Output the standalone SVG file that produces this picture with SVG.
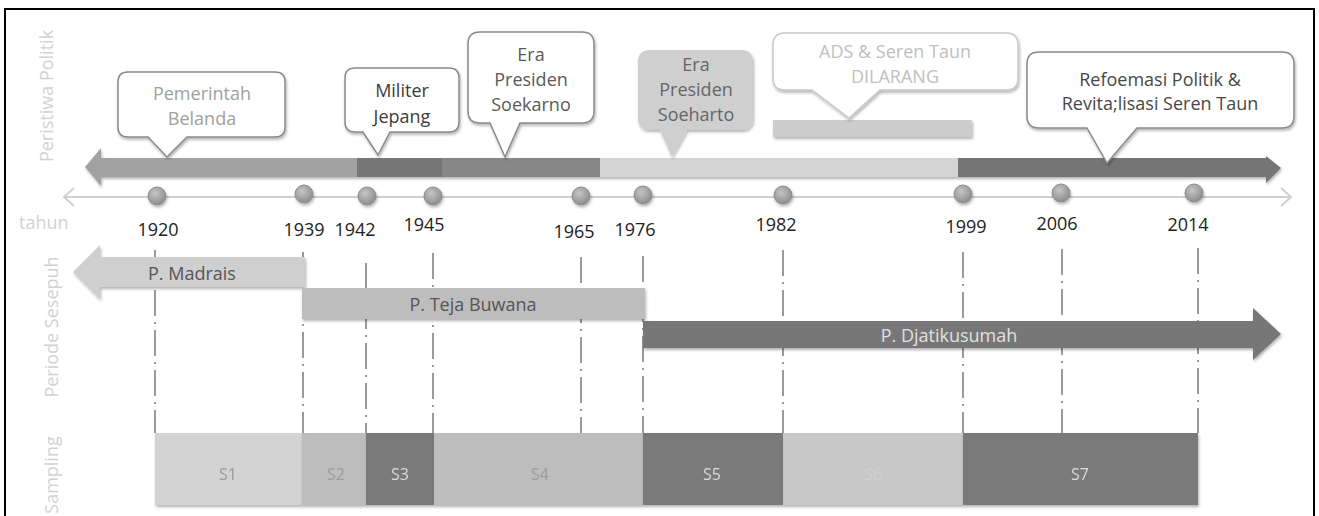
<svg xmlns="http://www.w3.org/2000/svg" width="1319" height="516" viewBox="0 0 1319 516">
<defs>
<filter id="sh" x="-10%" y="-10%" width="130%" height="140%">
<feDropShadow dx="1" dy="2" stdDeviation="1.5" flood-color="#000" flood-opacity="0.3"/>
</filter>
<radialGradient id="dotg" cx="40%" cy="35%" r="70%">
<stop offset="0" stop-color="#c4c4c4"/>
<stop offset="1" stop-color="#8a8a8a"/>
</radialGradient>
</defs>
<style>
text{font-family:"Open Sans","Liberation Sans",sans-serif}
.side{font-size:18px;fill:#d2d2d2}
.yr{font-size:18px;fill:#222;text-anchor:middle}
.co{font-size:18px;text-anchor:middle}
.box{fill:#fff;stroke:#8a8a8a;stroke-width:1.5;filter:url(#sh)}
.dash{stroke:#9a9a9a;stroke-width:2;fill:none;stroke-dasharray:26 6 2 6}
.dot{fill:url(#dotg);stroke:#8c8c8c;stroke-width:1;filter:url(#sh)}
.samp{filter:url(#sh)}
.sl{font-size:16px;text-anchor:middle}
.per{font-size:18px}
</style>
<rect x="0" y="0" width="1319" height="516" fill="#fff"/>
<rect x="5" y="9" width="1309" height="520" fill="none" stroke="#000" stroke-width="2"/>

<g id="labels">
<text class="side" transform="translate(53,96) rotate(-90)" text-anchor="middle">Peristiwa Politik</text>
<text class="side" x="19" y="229">tahun</text>
<text class="side" transform="translate(58,327) rotate(-90)" text-anchor="middle">Periode Sesepuh</text>
<text class="side" transform="translate(58,475) rotate(-90)" text-anchor="middle">Sampling</text>
</g>

<g id="connectors">
<line x1="64" y1="197" x2="1290" y2="197" stroke="#d0d0d0" stroke-width="2"/>
<polyline points="74,188 64,197 74,206" fill="none" stroke="#d0d0d0" stroke-width="2"/>
<polyline points="1281,188 1291,197 1281,206" fill="none" stroke="#d0d0d0" stroke-width="2"/>
<line class="dash" x1="155" y1="250" x2="155" y2="433"/>
<line class="dash" x1="303" y1="252" x2="303" y2="433"/>
<line class="dash" x1="366" y1="263" x2="366" y2="433"/>
<line class="dash" x1="433" y1="253" x2="433" y2="433"/>
<line class="dash" x1="581" y1="257" x2="581" y2="433"/>
<line class="dash" x1="643" y1="256" x2="643" y2="433"/>
<line class="dash" x1="783" y1="250" x2="783" y2="433"/>
<line class="dash" x1="963" y1="252" x2="963" y2="433"/>
<line class="dash" x1="1062" y1="249" x2="1062" y2="433"/>
<line class="dash" x1="1198" y1="248" x2="1198" y2="433"/>
</g>

<g id="politik-arrow" filter="url(#sh)">
<polygon points="85,167 101,148 101,158 357,158 357,177 101,177 101,186" fill="#a2a2a2"/>
<rect x="357" y="158" width="85" height="19" fill="#777"/>
<rect x="442" y="158" width="158" height="19" fill="#878787"/>
<rect x="600" y="158" width="358" height="19" fill="#d4d4d4"/>
<polygon points="958,158 1266,158 1266,156 1281,168 1266,183 1266,177 958,177" fill="#747474"/>
</g>

<g id="dots">
<circle class="dot" cx="157" cy="196" r="9"/>
<circle class="dot" cx="304" cy="194" r="9"/>
<circle class="dot" cx="367" cy="196" r="9"/>
<circle class="dot" cx="433" cy="196" r="9"/>
<circle class="dot" cx="581" cy="196" r="9"/>
<circle class="dot" cx="643" cy="195" r="9"/>
<circle class="dot" cx="783" cy="195" r="9"/>
<circle class="dot" cx="963" cy="194" r="9"/>
<circle class="dot" cx="1061" cy="193" r="9"/>
<circle class="dot" cx="1194" cy="193" r="9"/>
</g>

<g id="years">
<text class="yr" x="158" y="236">1920</text>
<text class="yr" x="304" y="236">1939</text>
<text class="yr" x="355" y="236">1942</text>
<text class="yr" x="424" y="231">1945</text>
<text class="yr" x="574" y="238">1965</text>
<text class="yr" x="635" y="236">1976</text>
<text class="yr" x="776" y="231">1982</text>
<text class="yr" x="966" y="233">1999</text>
<text class="yr" x="1057" y="230">2006</text>
<text class="yr" x="1188" y="231">2014</text>
</g>

<g id="callout-belanda">
<path class="box" d="M128,72 H275 Q285,72 285,82 V127 Q285,137 275,137 H187 L167,157 L148,137 H128 Q118,137 118,127 V82 Q118,72 128,72 Z"/>
<text class="co" fill="#a0a0a0" x="202" y="100">Pemerintah</text>
<text class="co" fill="#a0a0a0" x="202" y="125">Belanda</text>
</g>

<g id="callout-jepang">
<path class="box" d="M355,68 H449 Q459,68 459,78 V122 Q459,132 449,132 H390 L378,155 L363,132 H355 Q345,132 345,122 V78 Q345,68 355,68 Z"/>
<text class="co" fill="#3c3c3c" x="402" y="97">Militer</text>
<text class="co" fill="#3c3c3c" x="402" y="123">Jepang</text>
</g>

<g id="callout-soekarno">
<path class="box" d="M480,32 H582 Q594,32 594,44 V111 Q594,123 582,123 H520 L505,157 L490,123 H480 Q468,123 468,111 V44 Q468,32 480,32 Z"/>
<text class="co" fill="#5a5a5a" x="531" y="61">Era</text>
<text class="co" fill="#5a5a5a" x="531" y="86">Presiden</text>
<text class="co" fill="#5a5a5a" x="531" y="111">Soekarno</text>
</g>

<g id="callout-soeharto">
<path d="M650,50 H741 Q753,50 753,62 V118 Q753,130 741,130 H687 L672,157 L660,130 H650 Q638,130 638,118 V62 Q638,50 650,50 Z" fill="#cfcfcf" filter="url(#sh)"/>
<text class="co" fill="#666" x="696" y="71">Era</text>
<text class="co" fill="#666" x="696" y="96">Presiden</text>
<text class="co" fill="#666" x="696" y="121">Soeharto</text>
</g>

<g id="callout-ads">
<rect x="773" y="120" width="199" height="17" fill="#cdcdcd" filter="url(#sh)"/>
<path d="M785,33 H1006 Q1018,33 1018,45 V78 Q1018,90 1006,90 H880 L849,118 L812,90 H785 Q773,90 773,78 V45 Q773,33 785,33 Z" fill="#fff" stroke="#c8c8c8" stroke-width="1.5" filter="url(#sh)"/>
<text class="co" fill="#c0c0c0" x="895" y="58">ADS &amp; Seren Taun</text>
<text class="co" fill="#c0c0c0" x="895" y="83">DILARANG</text>
</g>

<g id="callout-reformasi">
<path class="box" d="M1039,52 H1282 Q1294,52 1294,64 V116 Q1294,128 1282,128 H1137 L1107,163 L1087,128 H1039 Q1027,128 1027,116 V64 Q1027,52 1039,52 Z"/>
<text class="co" fill="#484848" x="1160" y="86">Refoemasi Politik &amp;</text>
<text class="co" fill="#484848" x="1160" y="110">Revita;lisasi Seren Taun</text>
</g>

<g id="p-madrais">
<polygon points="73,272 100,245 100,257 305,257 305,287 100,287 100,299" fill="#cfcfcf" filter="url(#sh)"/>
<text class="per" fill="#555" x="148" y="280">P. Madrais</text>
</g>

<g id="p-teja-buwana">
<rect x="302" y="288" width="343" height="31" fill="#bdbdbd" filter="url(#sh)"/>
<text class="per" fill="#555" x="473" y="311" text-anchor="middle">P. Teja Buwana</text>
</g>

<g id="p-djatikusumah">
<polygon points="643,321 1253,321 1253,308 1281,334 1253,360 1253,348 643,348" fill="#777" filter="url(#sh)"/>
<text class="per" fill="#e0e0e0" x="949" y="342" text-anchor="middle">P. Djatikusumah</text>
</g>

<g id="sampling">
<g id="s1" class="samp"><rect x="155" y="433" width="147" height="72" fill="#d3d3d3"/><text class="sl" fill="#9a9a9a" x="228" y="480">S1</text></g>
<g id="s2" class="samp"><rect x="302" y="433" width="64" height="72" fill="#bdbdbd"/><text class="sl" fill="#9c9c9c" x="336" y="480">S2</text></g>
<g id="s3" class="samp"><rect x="366" y="433" width="68" height="72" fill="#7a7a7a"/><text class="sl" fill="#dadada" x="400" y="480">S3</text></g>
<g id="s4" class="samp"><rect x="434" y="433" width="209" height="72" fill="#bdbdbd"/><text class="sl" fill="#9c9c9c" x="540" y="480">S4</text></g>
<g id="s5" class="samp"><rect x="643" y="433" width="140" height="72" fill="#7a7a7a"/><text class="sl" fill="#dadada" x="712" y="480">S5</text></g>
<g id="s6" class="samp"><rect x="783" y="433" width="180" height="72" fill="#c8c8c8"/><text class="sl" fill="#d0d0d0" x="873" y="480">S6</text></g>
<g id="s7" class="samp"><rect x="963" y="433" width="235" height="72" fill="#7a7a7a"/><text class="sl" fill="#dadada" x="1080" y="480">S7</text></g>
</g>
</svg>
